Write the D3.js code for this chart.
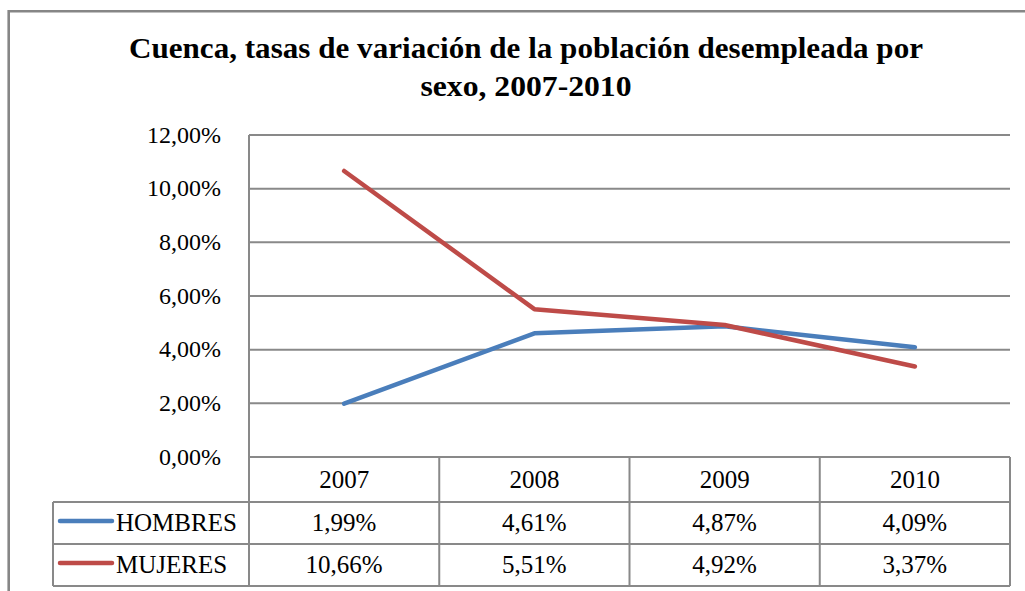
<!DOCTYPE html>
<html>
<head>
<meta charset="utf-8">
<script src="https://cdn.jsdelivr.net/npm/d3@7/dist/d3.min.js"></script>
<style>
  html, body { margin: 0; padding: 0; background: #fff; }
  svg { display: block; }
  text { font-family: "Liberation Serif", "Times New Roman", serif; fill: #000; }
</style>
</head>
<body>
<svg id="chart" width="1025" height="591"></svg>
<script>
const titleLines = ["Cuenca, tasas de variación de la población desempleada por", "sexo, 2007-2010"];
const years = ["2007", "2008", "2009", "2010"];
const hombres = [0.0199, 0.0461, 0.0487, 0.0409];
const mujeres = [0.1066, 0.0551, 0.0492, 0.0337];
const seriesNames = ["HOMBRES", "MUJERES"];
const seriesColors = ["#4A7EBB", "#BE4B48"];
const yTicks = [0, 0.02, 0.04, 0.06, 0.08, 0.10, 0.12];

const series = [
  { name: seriesNames[0], values: hombres, color: seriesColors[0] },
  { name: seriesNames[1], values: mujeres, color: seriesColors[1] }
];

const svg = d3.select("#chart");
const grid = "#898989";
const serif = '"Liberation Serif", "Times New Roman", serif';

const plotLeft = 249, plotRight = 1010, plotTop = 135, plotBottom = 457;
const tableLeft = 53;
const rowH = [45, 42, 42];

const x = d3.scaleBand().domain(years).range([plotLeft, plotRight]);
const y = d3.scaleLinear().domain([0, 0.12]).range([plotBottom, plotTop]);
const fmt = v => (v * 100).toFixed(2).replace(".", ",") + "%";

// outer chart border
svg.append("path")
  .attr("d", `M8.7,591 L8.7,11.3 L1025,11.3`)
  .attr("fill", "none").attr("stroke", "#868686").attr("stroke-width", 2.6);

// title
const titleWidths = [794, 211];
titleLines.forEach((t, i) => {
  svg.append("text")
    .attr("x", 526).attr("y", 58 + i * 38)
    .attr("text-anchor", "middle")
    .attr("font-weight", "bold")
    .attr("font-size", 28.5)
    .style("font-family", serif)
    .attr("textLength", titleWidths[i])
    .attr("lengthAdjust", "spacingAndGlyphs")
    .text(t);
});

// gridlines
svg.append("g").selectAll("line")
  .data(yTicks.filter(d => d > 0))
  .join("line")
  .attr("x1", plotLeft).attr("x2", plotRight)
  .attr("y1", d => y(d)).attr("y2", d => y(d))
  .attr("stroke", grid).attr("stroke-width", 2);

// y axis
const yAxis = d3.axisLeft(y).tickValues(yTicks).tickFormat(fmt).tickSize(0).tickPadding(28);
const ya = svg.append("g").attr("transform", `translate(${plotLeft},0)`).call(yAxis);
ya.attr("font-family", null).attr("font-size", null);
ya.select(".domain").remove();
ya.selectAll("text")
  .style("font-family", serif)
  .attr("font-size", 24).attr("fill", "#000").attr("dy", "0.3em");

// table
const rowTops = [plotBottom, plotBottom + rowH[0], plotBottom + rowH[0] + rowH[1]];
const tableBottom = rowTops[2] + rowH[2];
const tg = svg.append("g").attr("stroke", grid).attr("stroke-width", 2);
tg.append("line").attr("x1", plotLeft).attr("x2", plotLeft).attr("y1", plotTop).attr("y2", tableBottom);
years.forEach(yr => {
  const xr = x(yr) + x.bandwidth();
  tg.append("line").attr("x1", xr).attr("x2", xr).attr("y1", rowTops[0]).attr("y2", tableBottom);
});
tg.append("line").attr("x1", plotLeft).attr("x2", plotRight).attr("y1", rowTops[0]).attr("y2", rowTops[0]);
[rowTops[1], rowTops[2], tableBottom].forEach(yy => {
  tg.append("line").attr("x1", tableLeft).attr("x2", plotRight).attr("y1", yy).attr("y2", yy);
});
tg.append("line").attr("x1", tableLeft).attr("x2", tableLeft).attr("y1", rowTops[1]).attr("y2", tableBottom);

// header year labels
svg.append("g").selectAll("text").data(years).join("text")
  .attr("x", d => x(d) + x.bandwidth() / 2)
  .attr("y", rowTops[0] + rowH[0] / 2 + 8)
  .attr("text-anchor", "middle").attr("font-size", 25)
  .style("font-family", serif)
  .text(d => d);

// rows
series.forEach((s, i) => {
  const top = rowTops[i + 1];
  const cy = top + rowH[i + 1] / 2;
  svg.append("line")
    .attr("x1", 60).attr("x2", 112).attr("y1", cy - 2).attr("y2", cy - 2)
    .attr("stroke", s.color).attr("stroke-width", 4.5).attr("stroke-linecap", "round");
  svg.append("text").attr("x", 116).attr("y", cy + 8).attr("font-size", 25)
    .style("font-family", serif).text(s.name);
  svg.append("g").selectAll("text").data(s.values).join("text")
    .attr("x", (d, j) => x(years[j]) + x.bandwidth() / 2)
    .attr("y", cy + 8)
    .attr("text-anchor", "middle").attr("font-size", 25)
    .style("font-family", serif)
    .text(d => fmt(d));
});

// lines
const line = d3.line()
  .x((d, j) => x(years[j]) + x.bandwidth() / 2)
  .y(d => y(d));
series.forEach(s => {
  svg.append("path").datum(s.values)
    .attr("d", line)
    .attr("fill", "none")
    .attr("stroke", s.color)
    .attr("stroke-width", 4.5)
    .attr("stroke-linecap", "round")
    .attr("stroke-linejoin", "round");
});
</script>
</body>
</html>
